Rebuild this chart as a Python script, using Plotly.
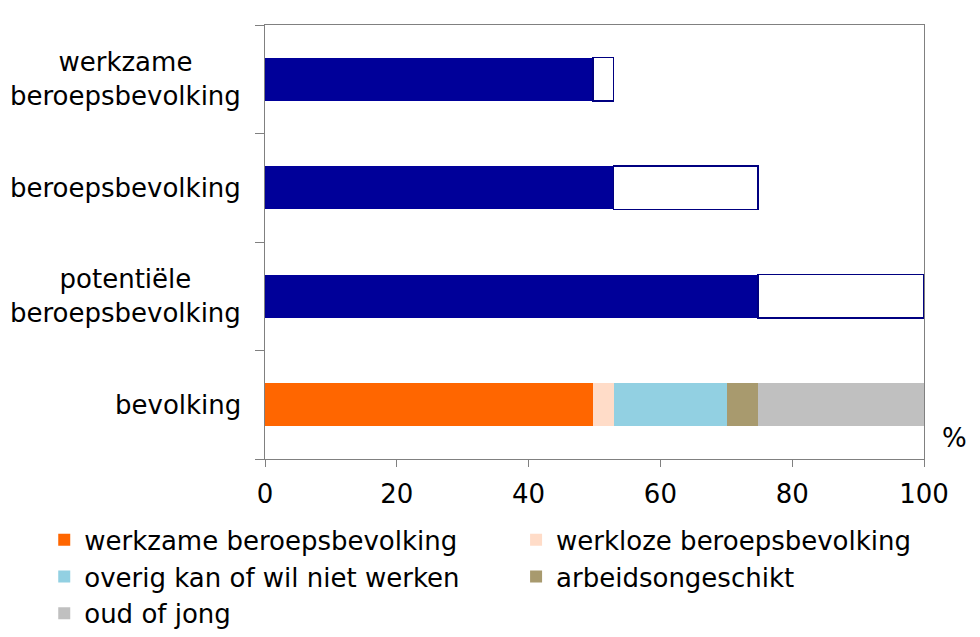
import plotly.graph_objects as go

# Categories (bottom to top)
categories = ["bevolking", "potentiële beroepsbevolking", "beroepsbevolking", "werkzame beroepsbevolking"]
category_labels = ["bevolking", "potentiële<br>beroepsbevolking", "beroepsbevolking", "werkzame<br>beroepsbevolking"]

# Composition of the population (%)
segment_names = ["werkzame beroepsbevolking", "werkloze beroepsbevolking",
                 "overig kan of wil niet werken", "arbeidsongeschikt", "oud of jong"]
segment_values = [49.8, 3.1, 17.2, 4.7, 25.2]
segment_colors = ["#FF6600", "#FFDCC8", "#92D0E2", "#A89A6E", "#C0C0C0"]
segment_legend = ["legend", "legend2", "legend", "legend2", "legend"]

# Subset bars (navy part) and remainder (white part), for the upper three categories
subset_categories = ["potentiële beroepsbevolking", "beroepsbevolking", "werkzame beroepsbevolking"]
subset_values = [74.8, 52.9, 49.8]
remainder_values = [25.2, 21.9, 3.1]

x_ticks = [0, 20, 40, 60, 80, 100]

FONT = "DejaVu Sans"
FS = 26

fig = go.Figure()

for i, (name, val, col, lg) in enumerate(zip(segment_names, segment_values, segment_colors, segment_legend)):
    fig.add_trace(go.Bar(
        y=["bevolking"], x=[val], name=name, orientation="h",
        marker=dict(color=col, line=dict(width=0)), width=0.4,
        legend=lg, legendgroup="g%d" % i,
    ))

fig.add_trace(go.Bar(
    y=subset_categories, x=subset_values, orientation="h", showlegend=False,
    marker=dict(color="#000099", line=dict(width=0)), width=0.4,
))
fig.add_trace(go.Bar(
    y=subset_categories, x=remainder_values, orientation="h", showlegend=False,
    marker=dict(color="#FFFFFF", line=dict(width=1.5, color="#000080")), width=0.4,
))

annotations = []
for cat, lab in zip(categories, category_labels):
    annotations.append(dict(
        x=-0.034, xref="paper", y=cat, yref="y", text=lab, showarrow=False,
        xanchor="right", yanchor="middle", align="center",
        font=dict(family=FONT, size=FS, color="black"),
    ))
annotations.append(dict(
    x=1.047, xref="paper", y=0.048, yref="paper", text="%", showarrow=False,
    xanchor="center", yanchor="middle", font=dict(family=FONT, size=FS, color="black"),
))

legend_common = dict(
    orientation="v", yanchor="top", xanchor="left",
    font=dict(family=FONT, size=FS, color="black"),
    traceorder="normal", tracegroupgap=5, itemwidth=30,
    bgcolor="rgba(0,0,0,0)",
)

# page body has an 8px margin, so the figure is drawn 8px smaller than the window
fig.update_layout(
    width=972, height=629,
    margin=dict(l=257, r=56, t=17, b=178, autoexpand=False),
    barmode="stack",
    plot_bgcolor="white", paper_bgcolor="white",
    font=dict(family=FONT, size=FS, color="black"),
    annotations=annotations,
    legend=dict(x=-0.335, y=-0.132, **legend_common),
    legend2=dict(x=0.381, y=-0.132, **legend_common),
    xaxis=dict(
        range=[0, 100], tickvals=x_ticks, ticks="outside", ticklen=7, tickcolor="#808080",
        showline=True, linecolor="#808080", linewidth=1, mirror=True,
        showgrid=False, zeroline=False, fixedrange=True, ticklabelstandoff=5,
        tickfont=dict(family=FONT, size=FS, color="black"),
    ),
    yaxis=dict(
        type="category", categoryorder="array", categoryarray=categories,
        range=[-0.5, 3.5], showticklabels=False, ticks="outside", ticklen=9,
        tickson="boundaries", tickcolor="#808080",
        showline=True, linecolor="#808080", linewidth=1, mirror=True,
        showgrid=False, zeroline=False,
    ),
)

fig.write_html("out.html")
